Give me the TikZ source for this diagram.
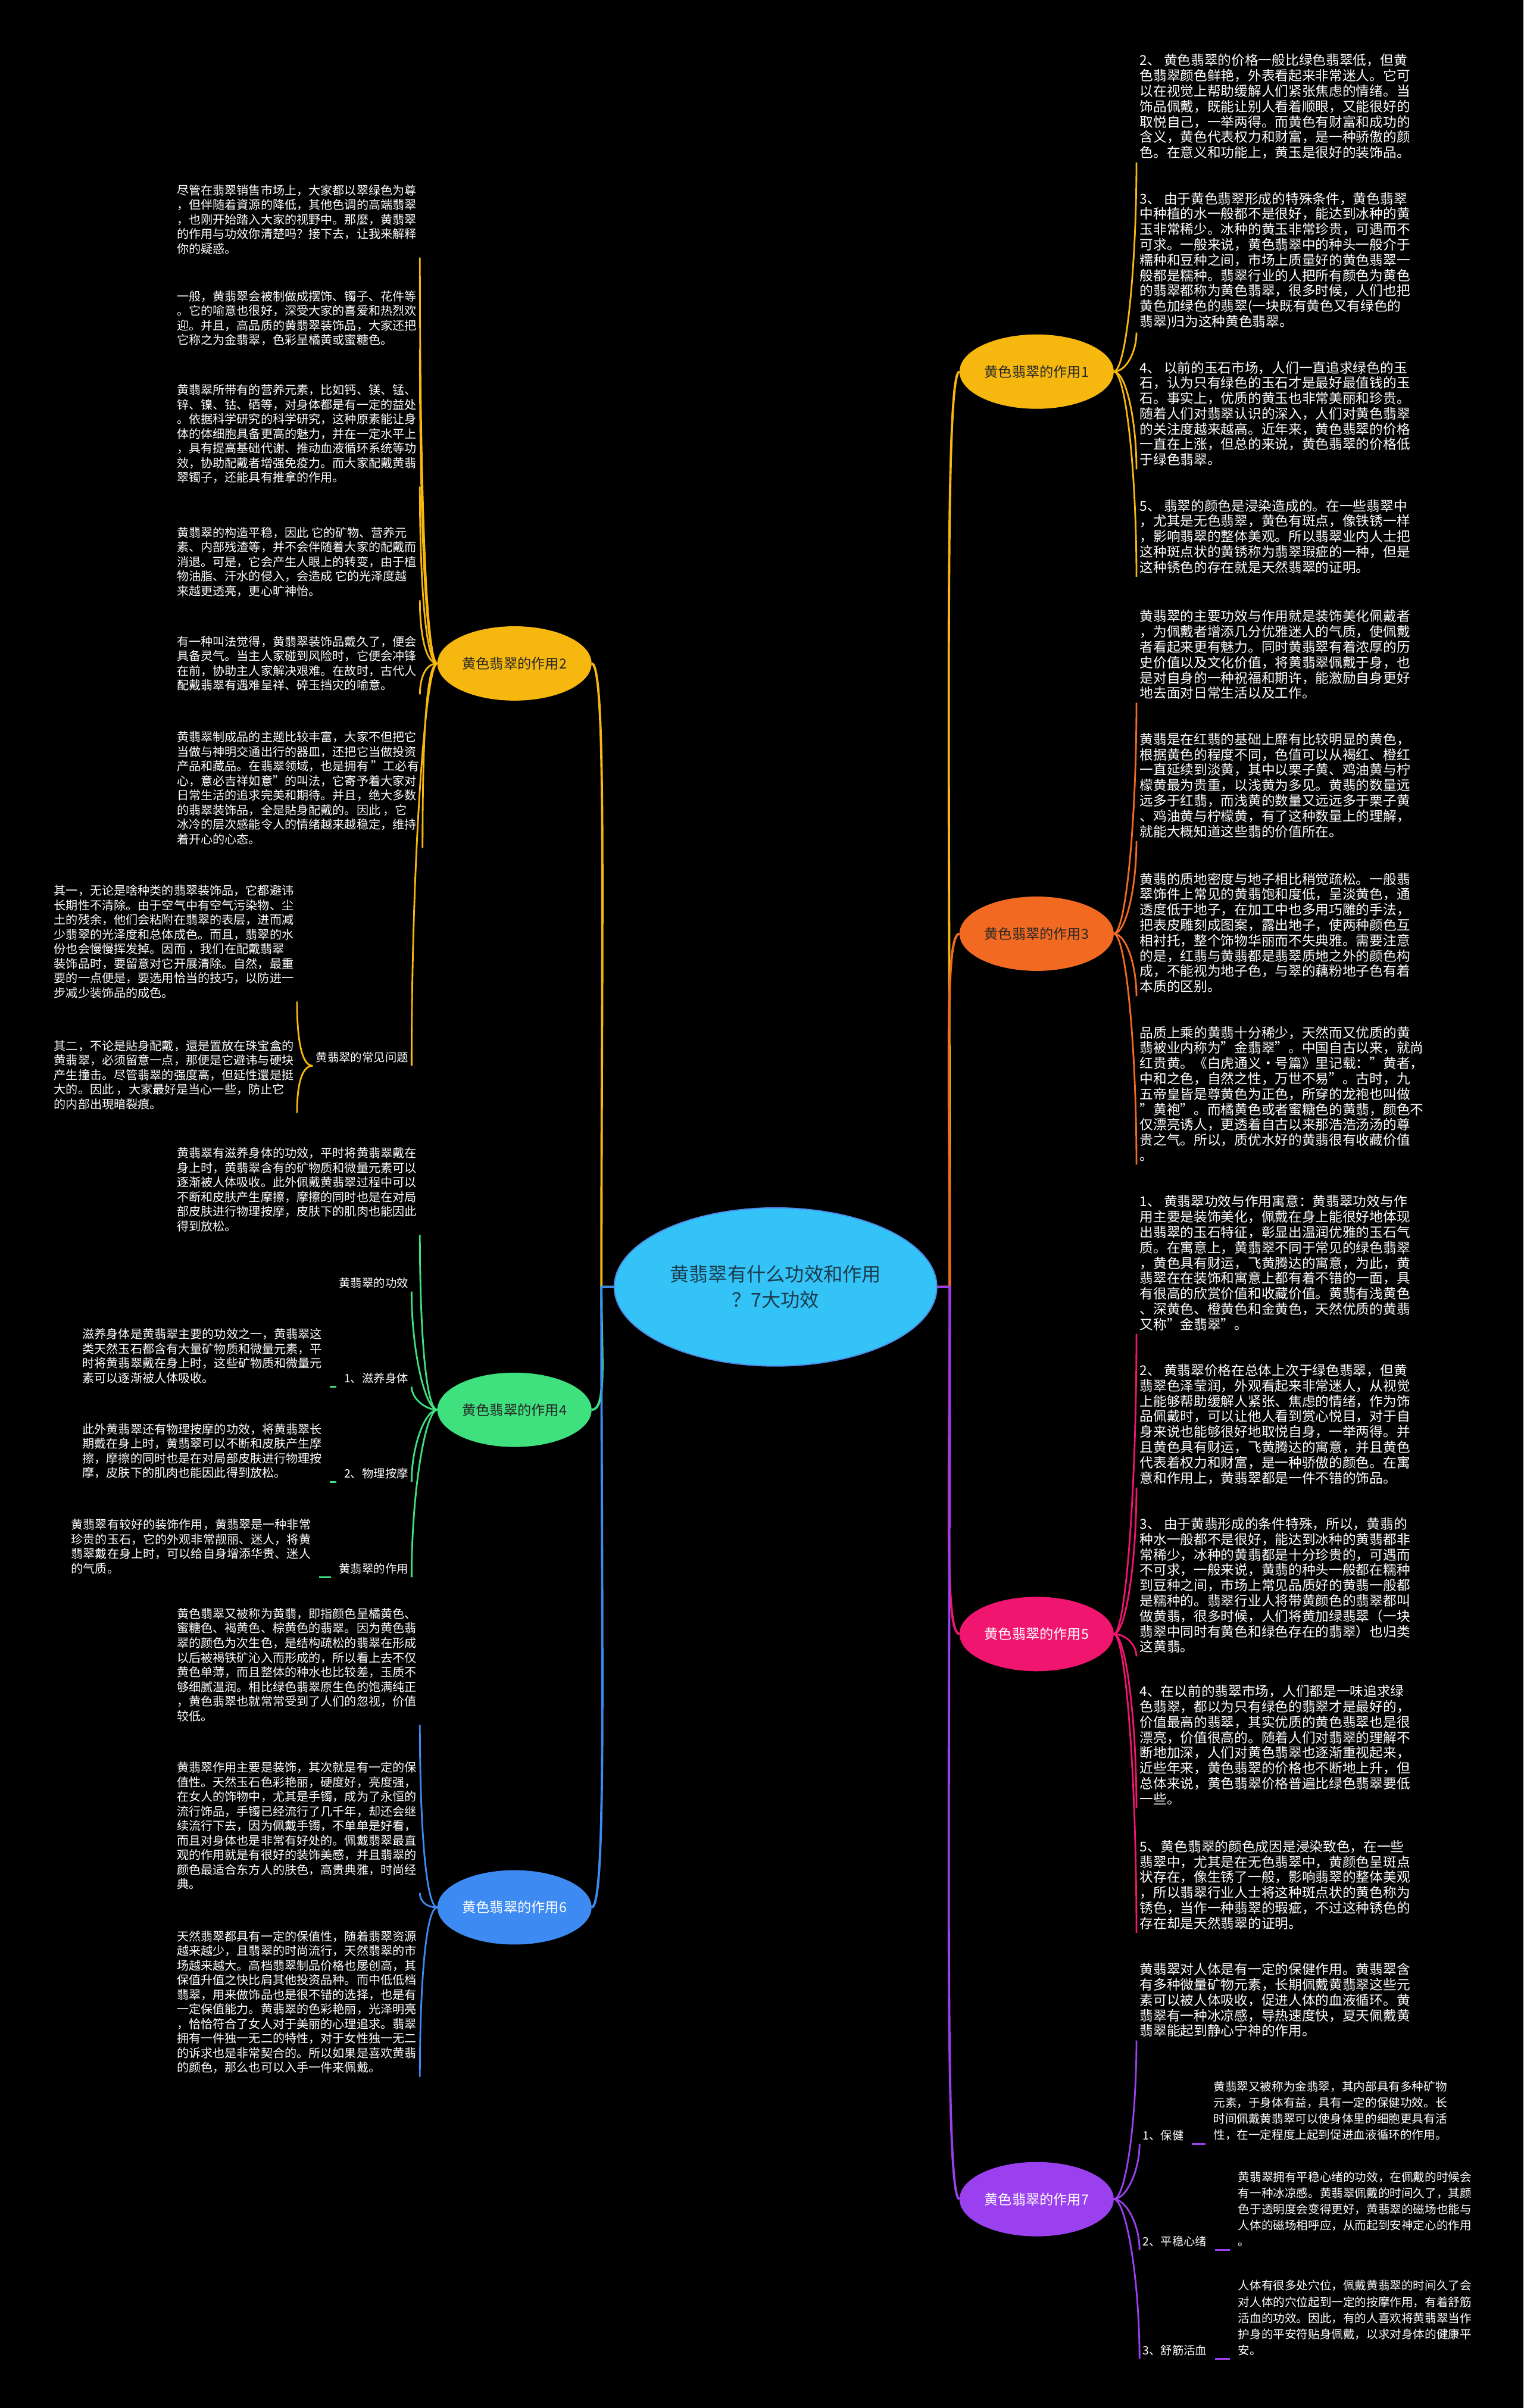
\documentclass[tikz,border=0pt]{standalone}
\usepackage{fontspec}
\setmainfont{Noto Sans CJK SC}
\usetikzlibrary{shapes.geometric,calc}
\definecolor{cY}{HTML}{F6B80F}
\definecolor{cO}{HTML}{F26A21}
\definecolor{cG}{HTML}{3FE07E}
\definecolor{cP}{HTML}{F0156F}
\definecolor{cB}{HTML}{3D8BF2}
\definecolor{cV}{HTML}{9B40EE}
\definecolor{cC}{HTML}{33C3F7}
\definecolor{cCb}{HTML}{4D8BE8}
\definecolor{cCt}{HTML}{1B3A4B}
\begin{document}
\begin{tikzpicture}[x=1pt,y=-1pt,
  txt/.style={anchor=north west, align=left, inner sep=2pt, text=white, font=\fontsize{7.8}{9.5}\selectfont},
  rtxt/.style={anchor=north west, align=left, inner sep=2pt, text=white, font=\fontsize{8.8}{10}\selectfont},
  stxt/.style={align=left, inner sep=2pt, text=white, font=\fontsize{7.6}{10.5}\selectfont},
  lab/.style={inner sep=2pt, text=white, font=\fontsize{7.5}{9}\selectfont},
  mainnode/.style={ellipse, minimum width=100pt, minimum height=48pt, inner sep=0pt, font=\fontsize{9}{11}\selectfont},
  fanL/.style={to path={.. controls ($(\tikztostart)+(-8,0)$) and ($(\tikztotarget)!0.5!(\tikztotarget |- \tikztostart)$) .. (\tikztotarget)}},
  fanR/.style={to path={.. controls ($(\tikztostart)+(8,0)$) and ($(\tikztotarget)!0.5!(\tikztotarget |- \tikztostart)$) .. (\tikztotarget)}},
  trunk/.style={to path={.. controls ($(\tikztostart)!0.6!(\tikztostart |- \tikztotarget)$) and ($(\tikztotarget)+(#1,0)$) .. (\tikztotarget)}},
  conn/.style={line width=1.1pt},
  tconn/.style={line width=1.5pt}
]
\useasboundingbox (0,0) rectangle (992,1568);
\fill[black] (0,0) rectangle (992,1568);

% ---------- centre and main nodes ----------
\node[ellipse, minimum width=210pt, minimum height=103pt, inner sep=0pt, fill=cC, draw=cCb, line width=0.8pt, text=cCt, align=center, font=\fontsize{12.5}{17}\selectfont] (c) at (505,838) {黄翡翠有什么功效和作用\\？7大功效};
\node[mainnode, fill=cY, draw=cY, text=black!85] (n1) at (675,242) {黄色翡翠的作用1};
\node[mainnode, fill=cY, draw=cY, text=black!85] (n2) at (335,432) {黄色翡翠的作用2};
\node[mainnode, fill=cO, draw=cO, text=black!85] (n3) at (675,608) {黄色翡翠的作用3};
\node[mainnode, fill=cG, draw=cG, text=black!85] (n4) at (335,918) {黄色翡翠的作用4};
\node[mainnode, fill=cP, draw=cP, text=white] (n5) at (675,1064) {黄色翡翠的作用5};
\node[mainnode, fill=cB, draw=cB, text=white] (n6) at (335,1242) {黄色翡翠的作用6};
\node[mainnode, fill=cV, draw=cV, text=white] (n7) at (675,1432) {黄色翡翠的作用7};

\coordinate (cl) at ($(c.west)+(-8,0)$);
\coordinate (cr) at ($(c.east)+(8,0)$);

% ---------- left column texts ----------
\node[txt] (A) at (113,118) {尽管在翡翠销售市场上，大家都以翠绿色为尊\\，但伴随着資源的降低，其他色调的高端翡翠\\，也刚开始踏入大家的视野中。那麼，黄翡翠\\的作用与功效你清楚吗？接下去，让我来解释\\你的疑惑。};
\node[txt] (B) at (113,187) {一般，黄翡翠会被制做成摆饰、镯子、花件等\\。它的喻意也很好，深受大家的喜爱和热烈欢\\迎。并且，高品质的黄翡翠装饰品，大家还把\\它称之为金翡翠，色彩呈橘黄或蜜糖色。};
\node[txt] (C) at (113,248) {黄翡翠所带有的营养元素，比如钙、镁、锰、\\锌、镍、钴、硒等，对身体都是有一定的益处\\。依据科学研究的科学研究，这种原素能让身\\体的体细胞具备更高的魅力，并在一定水平上\\，具有提高基础代谢、推动血液循环系统等功\\效，协助配戴者增强免疫力。而大家配戴黄翡\\翠镯子，还能具有推拿的作用。};
\node[txt] (D) at (113,341) {黄翡翠的构造平稳，因此 它的矿物、营养元\\素、内部残渣等，并不会伴随着大家的配戴而\\消退。可是，它会产生人眼上的转变，由于植\\物油脂、汗水的侵入，会造成 它的光泽度越\\来越更透亮，更心旷神怡。};
\node[txt] (E) at (113,412) {有一种叫法觉得，黄翡翠装饰品戴久了，便会\\具备灵气。当主人家碰到风险时，它便会冲锋\\在前，协助主人家解决艰难。在故时，古代人\\配戴翡翠有遇难呈祥、碎玉挡灾的喻意。};
\node[txt] (F) at (113,474) {黄翡翠制成品的主题比较丰富，大家不但把它\\当做与神明交通出行的器皿，还把它当做投资\\产品和藏品。在翡翠领域，也是拥有 "工必有\\心，意必吉祥如意"的叫法，它寄予着大家对\\日常生活的追求完美和期待。并且，绝大多数\\的翡翠装饰品，全是貼身配戴的。因此 ，它\\冰冷的层次感能令人的情绪越来越稳定，维持\\着开心的心态。};
\node[txt] (G) at (33,574) {其一，无论是啥种类的翡翠装饰品，它都避讳\\长期性不清除。由于空气中有空气污染物、尘\\土的残余，他们会粘附在翡翠的表层，进而减\\少翡翠的光泽度和总体成色。而且，翡翠的水\\份也会慢慢挥发掉。因而 ，我们在配戴翡翠\\装饰品时，要留意对它开展清除。自然，最重\\要的一点便是，要选用恰当的技巧，以防进一\\步减少装饰品的成色。};
\node[txt] (H) at (33,675) {其二，不论是貼身配戴，還是置放在珠宝盒的\\黄翡翠，必须留意一点，那便是它避讳与硬块\\产生撞击。尽管翡翠的强度高，但延性還是挺\\大的。因此 ，大家最好是当心一些，防止它\\的内部出現暗裂痕。};
\node[lab, anchor=south east] (q) at (268,694) {黄翡翠的常见问题};

\node[txt] (I) at (113,745) {黄翡翠有滋养身体的功效，平时将黄翡翠戴在\\身上时，黄翡翠含有的矿物质和微量元素可以\\逐渐被人体吸收。此外佩戴黄翡翠过程中可以\\不断和皮肤产生摩擦，摩擦的同时也是在对局\\部皮肤进行物理按摩，皮肤下的肌肉也能因此\\得到放松。};
\node[lab, anchor=south east] (g1) at (268,841) {黄翡翠的功效};
\node[lab, anchor=south east] (g2) at (268,903) {1、滋养身体};
\node[lab, anchor=south east] (g3) at (268,965) {2、物理按摩};
\node[lab, anchor=south east] (g4) at (268,1027) {黄翡翠的作用};
\node[txt, anchor=south east] (J) at ($(g2.south west)+(-10,0)$) {滋养身体是黄翡翠主要的功效之一，黄翡翠这\\类天然玉石都含有大量矿物质和微量元素，平\\时将黄翡翠戴在身上时，这些矿物质和微量元\\素可以逐渐被人体吸收。};
\node[txt, anchor=south east] (K) at ($(g3.south west)+(-10,0)$) {此外黄翡翠还有物理按摩的功效，将黄翡翠长\\期戴在身上时，黄翡翠可以不断和皮肤产生摩\\擦，摩擦的同时也是在对局部皮肤进行物理按\\摩，皮肤下的肌肉也能因此得到放松。};
\node[txt, anchor=south east] (L) at ($(g4.south west)+(-14,0)$) {黄翡翠有较好的装饰作用，黄翡翠是一种非常\\珍贵的玉石，它的外观非常靓丽、迷人，将黄\\翡翠戴在身上时，可以给自身增添华贵、迷人\\的气质。};

\node[txt] (M) at (113,1045) {黄色翡翠又被称为黄翡，即指颜色呈橘黄色、\\蜜糖色、褐黄色、棕黄色的翡翠。因为黄色翡\\翠的颜色为次生色，是结构疏松的翡翠在形成\\以后被褐铁矿沁入而形成的，所以看上去不仅\\黄色单薄，而且整体的种水也比较差，玉质不\\够细腻温润。相比绿色翡翠原生色的饱满纯正\\，黄色翡翠也就常常受到了人们的忽视，价值\\较低。};
\node[txt] (N) at (113,1145) {黄翡翠作用主要是装饰，其次就是有一定的保\\值性。天然玉石色彩艳丽，硬度好，亮度强，\\在女人的饰物中，尤其是手镯，成为了永恒的\\流行饰品，手镯已经流行了几千年，却还会继\\续流行下去，因为佩戴手镯，不单单是好看，\\而且对身体也是非常有好处的。佩戴翡翠最直\\观的作用就是有很好的装饰美感，并且翡翠的\\颜色最适合东方人的肤色，高贵典雅，时尚经\\典。};
\node[txt] (O) at (113,1255) {天然翡翠都具有一定的保值性，随着翡翠资源\\越来越少，且翡翠的时尚流行，天然翡翠的市\\场越来越大。高档翡翠制品价格也屡创高，其\\保值升值之快比肩其他投资品种。而中低低档\\翡翠，用来做饰品也是很不错的选择，也是有\\一定保值能力。黄翡翠的色彩艳丽，光泽明亮\\，恰恰符合了女人对于美丽的心理追求。翡翠\\拥有一件独一无二的特性，对于女性独一无二\\的诉求也是非常契合的。所以如果是喜欢黄翡\\的颜色，那么也可以入手一件来佩戴。};

% ---------- right column texts ----------
\node[rtxt] (R1) at (740,33) {2、 黄色翡翠的价格一般比绿色翡翠低，但黄\\色翡翠颜色鲜艳，外表看起来非常迷人。它可\\以在视觉上帮助缓解人们紧张焦虑的情绪。当\\饰品佩戴，既能让别人看着顺眼，又能很好的\\取悦自己，一举两得。而黄色有财富和成功的\\含义，黄色代表权力和财富，是一种骄傲的颜\\色。在意义和功能上，黄玉是很好的装饰品。};
\node[rtxt] (R2) at (740,123) {3、 由于黄色翡翠形成的特殊条件，黄色翡翠\\中种植的水一般都不是很好，能达到冰种的黄\\玉非常稀少。冰种的黄玉非常珍贵，可遇而不\\可求。一般来说，黄色翡翠中的种头一般介于\\糯种和豆种之间，市场上质量好的黄色翡翠一\\般都是糯种。翡翠行业的人把所有颜色为黄色\\的翡翠都称为黄色翡翠，很多时候，人们也把\\黄色加绿色的翡翠(一块既有黄色又有绿色的\\翡翠)归为这种黄色翡翠。};
\node[rtxt] (R3) at (740,233) {4、 以前的玉石市场，人们一直追求绿色的玉\\石，认为只有绿色的玉石才是最好最值钱的玉\\石。事实上，优质的黄玉也非常美丽和珍贵。\\随着人们对翡翠认识的深入，人们对黄色翡翠\\的关注度越来越高。近年来，黄色翡翠的价格\\一直在上涨，但总的来说，黄色翡翠的价格低\\于绿色翡翠。};
\node[rtxt] (R4) at (740,323) {5、 翡翠的颜色是浸染造成的。在一些翡翠中\\，尤其是无色翡翠，黄色有斑点，像铁锈一样\\，影响翡翠的整体美观。所以翡翠业内人士把\\这种斑点状的黄锈称为翡翠瑕疵的一种，但是\\这种锈色的存在就是天然翡翠的证明。};
\node[rtxt] (R5) at (740,395) {黄翡翠的主要功效与作用就是装饰美化佩戴者\\，为佩戴者增添几分优雅迷人的气质，使佩戴\\者看起来更有魅力。同时黄翡翠有着浓厚的历\\史价值以及文化价值，将黄翡翠佩戴于身，也\\是对自身的一种祝福和期许，能激励自身更好\\地去面对日常生活以及工作。};
\node[rtxt] (R6) at (740,475) {黄翡是在红翡的基础上靡有比较明显的黄色，\\根据黄色的程度不同，色值可以从褐红、橙红\\一直延续到淡黄，其中以栗子黄、鸡油黄与柠\\檬黄最为贵重，以浅黄为多见。黄翡的数量远\\远多于红翡，而浅黄的数量又远远多于栗子黄\\、鸡油黄与柠檬黄，有了这种数量上的理解，\\就能大概知道这些翡的价值所在。};
\node[rtxt] (R7) at (740,566) {黄翡的质地密度与地子相比稍觉疏松。一般翡\\翠饰件上常见的黄翡饱和度低，呈淡黄色，通\\透度低于地子，在加工中也多用巧雕的手法，\\把表皮雕刻成图案，露出地子，使两种颜色互\\相衬托，整个饰物华丽而不失典雅。需要注意\\的是，红翡与黄翡都是翡翠质地之外的颜色构\\成，不能视为地子色，与翠的藕粉地子色有着\\本质的区别。};
\node[rtxt] (R8) at (740,666) {品质上乘的黄翡十分稀少，天然而又优质的黄\\翡被业内称为"金翡翠"。中国自古以来，就尚\\红贵黄。《白虎通义·号篇》里记载："黄者，\\中和之色，自然之性，万世不易"。古时，九\\五帝皇皆是尊黄色为正色，所穿的龙袍也叫做\\"黄袍"。而橘黄色或者蜜糖色的黄翡，颜色不\\仅漂亮诱人，更透着自古以来那浩浩汤汤的尊\\贵之气。所以，质优水好的黄翡很有收藏价值\\。};
\node[rtxt] (R9) at (740,776) {1、 黄翡翠功效与作用寓意：黄翡翠功效与作\\用主要是装饰美化，佩戴在身上能很好地体现\\出翡翠的玉石特征，彰显出温润优雅的玉石气\\质。在寓意上，黄翡翠不同于常见的绿色翡翠\\，黄色具有财运，飞黄腾达的寓意，为此，黄\\翡翠在在装饰和寓意上都有着不错的一面，具\\有很高的欣赏价值和收藏价值。黄翡有浅黄色\\、深黄色、橙黄色和金黄色，天然优质的黄翡\\又称"金翡翠"。};
\node[rtxt] (R10) at (740,886) {2、 黄翡翠价格在总体上次于绿色翡翠，但黄\\翡翠色泽莹润，外观看起来非常迷人，从视觉\\上能够帮助缓解人紧张、焦虑的情绪，作为饰\\品佩戴时，可以让他人看到赏心悦目，对于自\\身来说也能够很好地取悦自身，一举两得。并\\且黄色具有财运，飞黄腾达的寓意，并且黄色\\代表着权力和财富，是一种骄傲的颜色。在寓\\意和作用上，黄翡翠都是一件不错的饰品。};
\node[rtxt] (R11) at (740,986) {3、 由于黄翡形成的条件特殊，所以，黄翡的\\种水一般都不是很好，能达到冰种的黄翡都非\\常稀少，冰种的黄翡都是十分珍贵的，可遇而\\不可求，一般来说，黄翡的种头一般都在糯种\\到豆种之间，市场上常见品质好的黄翡一般都\\是糯种的。翡翠行业人将带黄颜色的翡翠都叫\\做黄翡，很多时候，人们将黄加绿翡翠（一块\\翡翠中同时有黄色和绿色存在的翡翠）也归类\\这黄翡。};
\node[rtxt] (R12) at (740,1095) {4、在以前的翡翠市场，人们都是一味追求绿\\色翡翠，都以为只有绿色的翡翠才是最好的，\\价值最高的翡翠，其实优质的黄色翡翠也是很\\漂亮，价值很高的。随着人们对翡翠的理解不\\断地加深，人们对黄色翡翠也逐渐重视起来，\\近些年来，黄色翡翠的价格也不断地上升，但\\总体来说，黄色翡翠价格普遍比绿色翡翠要低\\一些。};
\node[rtxt] (R13) at (740,1196) {5、黄色翡翠的颜色成因是浸染致色，在一些\\翡翠中，尤其是在无色翡翠中，黄颜色呈斑点\\状存在，像生锈了一般，影响翡翠的整体美观\\，所以翡翠行业人士将这种斑点状的黄色称为\\锈色，当作一种翡翠的瑕疵，不过这种锈色的\\存在却是天然翡翠的证明。};
\node[rtxt] (R14) at (740,1276) {黄翡翠对人体是有一定的保健作用。黄翡翠含\\有多种微量矿物元素，长期佩戴黄翡翠这些元\\素可以被人体吸收，促进人体的血液循环。黄\\翡翠有一种冰凉感，导热速度快，夏天佩戴黄\\翡翠能起到静心宁神的作用。};
\node[lab, anchor=south west] (v1) at (742,1396) {1、保健};
\node[lab, anchor=south west] (v2) at (742,1465) {2、平稳心绪};
\node[lab, anchor=south west] (v3) at (742,1536) {3、舒筋活血};
\node[stxt, anchor=south west] (R15) at (788,1396) {黄翡翠又被称为金翡翠，其内部具有多种矿物\\元素，于身体有益，具有一定的保健功效。长\\时间佩戴黄翡翠可以使身体里的细胞更具有活\\性，在一定程度上起到促进血液循环的作用。};
\node[stxt, anchor=south west] (R16) at (804,1465) {黄翡翠拥有平稳心绪的功效，在佩戴的时候会\\有一种冰凉感。黄翡翠佩戴的时间久了，其颜\\色于透明度会变得更好，黄翡翠的磁场也能与\\人体的磁场相呼应，从而起到安神定心的作用\\。};
\node[stxt, anchor=south west] (R17) at (804,1536) {人体有很多处穴位，佩戴黄翡翠的时间久了会\\对人体的穴位起到一定的按摩作用，有着舒筋\\活血的功效。因此，有的人喜欢将黄翡翠当作\\护身的平安符贴身佩戴，以求对身体的健康平\\安。};

% ---------- trunk connectors ----------
\draw[tconn, cY] (c.west) -- (cl) to[trunk=10] (n2.east);
\draw[tconn, cG] (c.west) -- (cl) to[trunk=10] (n4.east);
\draw[tconn, cB] (c.west) -- (cl) to[trunk=10] (n6.east);
\draw[tconn, cY] (c.east) -- (cr) to[trunk=-10] (n1.west);
\draw[tconn, cO] (c.east) -- (cr) to[trunk=-10] (n3.west);
\draw[tconn, cP] (c.east) -- (cr) to[trunk=-10] (n5.west);
\draw[tconn, cV] (c.east) -- (cr) to[trunk=-10] (n7.west);

% ---------- branch connectors ----------
\foreach \t in {A,B,C,D,E,F,q} \draw[conn, cY] (n2.west) to[fanL] (\t.south east);
\draw[conn, cY] (q.south west) to[fanL] (G.south east);
\draw[conn, cY] (q.south west) to[fanL] (H.south east);

\foreach \t in {I,g1,g2,g3,g4} \draw[conn, cG] (n4.west) to[fanL] (\t.south east);
\draw[conn, cG, shorten <=3pt, shorten >=3pt] (g2.south west) -- (J.south east);
\draw[conn, cG, shorten <=3pt, shorten >=3pt] (g3.south west) -- (K.south east);
\draw[conn, cG, shorten <=3pt, shorten >=3pt] (g4.south west) -- (L.south east);

\foreach \t in {M,N,O} \draw[conn, cB] (n6.west) to[fanL] (\t.south east);

\foreach \t in {R1,R2,R3,R4} \draw[conn, cY] (n1.east) to[fanR] (\t.south west);
\foreach \t in {R5,R6,R7,R8} \draw[conn, cO] (n3.east) to[fanR] (\t.south west);
\foreach \t in {R9,R10,R11,R12,R13} \draw[conn, cP] (n5.east) to[fanR] (\t.south west);
\foreach \t in {R14,v1,v2,v3} \draw[conn, cV] (n7.east) to[fanR] (\t.south west);
\draw[conn, cV, shorten <=3pt, shorten >=3pt] (v1.south east) -- (R15.south west);
\draw[conn, cV, shorten <=3pt, shorten >=3pt] (v2.south east) -- (R16.south west);
\draw[conn, cV, shorten <=3pt, shorten >=3pt] (v3.south east) -- (R17.south west);
\end{tikzpicture}
\end{document}
